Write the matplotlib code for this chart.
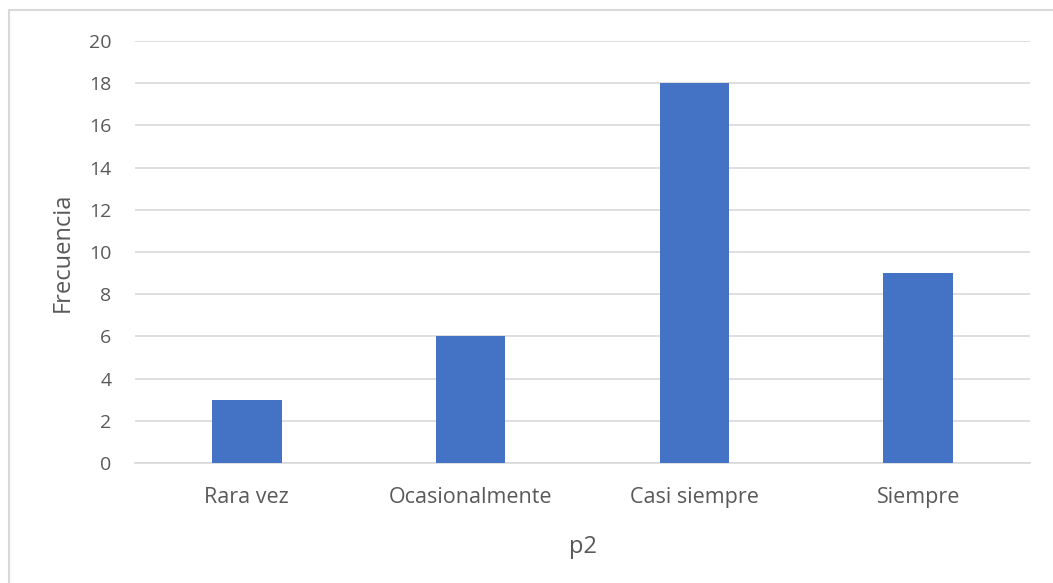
import matplotlib
matplotlib.use("Agg")
import matplotlib.pyplot as plt
from matplotlib.patches import Rectangle

categories = ["Rara vez", "Ocasionalmente", "Casi siempre", "Siempre"]
values = [3, 6, 18, 9]
yticks = [0, 2, 4, 6, 8, 10, 12, 14, 16, 18, 20]

W, H = 1053, 583
fig = plt.figure(figsize=(W / 100, H / 100), dpi=100)
plt.rcParams['font.family'] = ['Open Sans', 'DejaVu Sans']

# outer chart border
fig.patches.append(Rectangle((9 / W, -0.1), 1.1, (H - 10) / H + 0.1, transform=fig.transFigure,
                             fill=False, edgecolor='#d9d9d9', linewidth=1.5))

left, right, top, bottom = 135, 1030, 41, 463
ax = fig.add_axes([left / W, 1 - bottom / H, (right - left) / W, (bottom - top) / H])

x = range(len(categories))
ax.bar(x, values, width=0.31, color='#4472c4', zorder=3)
ax.set_xlim(-0.5, len(categories) - 0.5)
ax.set_ylim(0, 20)
ax.set_yticks(yticks)
ax.set_xticks(list(x))
ax.set_xticklabels(categories, fontsize=15.5)
ax.grid(axis='y', color='#d9d9d9', linewidth=1.2, zorder=0)
for s in ['top', 'right', 'left']:
    ax.spines[s].set_visible(False)
ax.spines['bottom'].set_color('#d9d9d9')
ax.spines['bottom'].set_linewidth(1.2)
ax.tick_params(axis='both', length=0, colors='#595959')
ax.tick_params(axis='y', pad=17, labelsize=14)
ax.tick_params(axis='x', pad=17)
ax.set_ylabel('Frecuencia', fontsize=17, color='#595959', labelpad=10)
ax.set_xlabel('p2', fontsize=17, color='#595959', labelpad=20)

fig.savefig('out.png', dpi=100, facecolor='white')
